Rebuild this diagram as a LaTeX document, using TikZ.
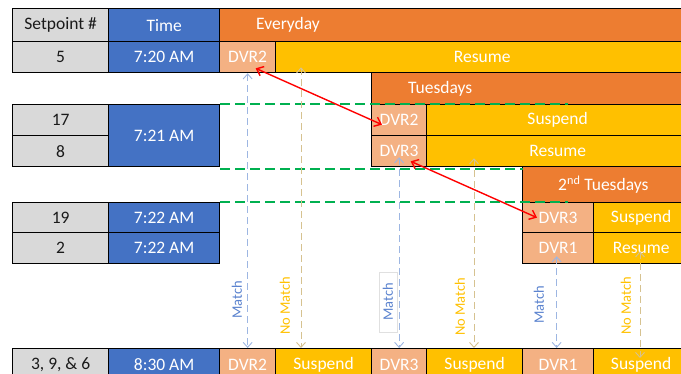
\documentclass[tikz,border=0pt]{standalone}
\usepackage{fontspec}
\setmainfont{Carlito}
\usetikzlibrary{arrows.meta,positioning}
\definecolor{cellgray}{HTML}{D9D9D9}
\definecolor{cellink}{HTML}{1A1A1A}
\definecolor{timeblue}{HTML}{4472C4}
\definecolor{dayorange}{HTML}{ED7D31}
\definecolor{dvrpeach}{HTML}{F4B183}
\definecolor{actgold}{HTML}{FFC000}
\definecolor{windowgreen}{HTML}{00B050}
\definecolor{matchline}{HTML}{9DB6E2}
\definecolor{matchink}{HTML}{5A82CE}
\definecolor{missline}{HTML}{D6C290}

\begin{document}
\begin{tikzpicture}[
  x=1pt,
  y=-1pt,
  every node/.style={font=\fontsize{17.5}{20}\selectfont, inner sep=0pt},
  cell/.style={draw=black, line width=1.3pt, anchor=north west, text=white},
  spcell/.style={cell, fill=cellgray, text=cellink, minimum width=96pt},
  tmcell/.style={cell, fill=timeblue, minimum width=111pt},
  dvrcell/.style={cell, fill=dvrpeach},
  actcell/.style={cell, fill=actgold},
  daybar/.style={cell, fill=dayorange},
  daytext/.style={text=white},
  window/.style={windowgreen, line width=1.6pt, dash pattern=on 10pt off 5pt},
  matcharrow/.style={matchline, line width=0.9pt, dash pattern=on 7pt off 4pt, {Straight Barb[length=5pt, width=9pt]}-{Straight Barb[length=5pt, width=9pt]}},
  missarrow/.style={missline, line width=0.9pt, dash pattern=on 7pt off 4pt, {Straight Barb[length=5pt, width=9pt]}-{Straight Barb[length=5pt, width=9pt]}},
  swaparrow/.style={red, line width=1.4pt, {Straight Barb[length=6pt, width=10pt]}-{Straight Barb[length=6pt, width=10pt]}},
  matchlbl/.style={text=matchink, font=\fontsize{14.5}{16}\selectfont, rotate=90},
  misslbl/.style={text=actgold, font=\fontsize{14.5}{16}\selectfont, rotate=90}
]
  \useasboundingbox (0,0) rectangle (681,374);
  \clip (0,0) rectangle (681,374);

  %% ---- header and 7:20 -------------------------------------------------
  \node[spcell, minimum height=33pt] (sphead) at (12,8) {Setpoint \#};
  \node[tmcell, minimum height=33pt] (tmhead) at (108,8) {Time};
  \node[daybar, minimum width=469pt, minimum height=33pt] (everyday) at (219,8) {};
  \node[daytext, right=37pt of everyday.west] {Everyday};

  \node[spcell, minimum height=31pt] (sp5) at (12,41) {5};
  \node[tmcell, minimum height=31pt] (tm5) at (108,41) {7:20 AM};
  \node[dvrcell, minimum width=56pt, minimum height=31pt] (dvrA) at (219,41) {DVR2};
  \node[actcell, minimum width=413pt, minimum height=31pt] (res5) at (275,41) {Resume};

  %% ---- 7:21 --------------------------------------------------------------
  \node[daybar, minimum width=317pt, minimum height=32pt] (tuesdays) at (371,72) {};
  \node[daytext, right=37pt of tuesdays.west] {Tuesdays};

  \node[spcell, minimum height=31pt] (sp17) at (12,104) {17};
  \node[spcell, minimum height=31pt] (sp8) at (12,135) {8};
  \node[tmcell, minimum height=62pt] (tm21) at (108,104) {7:21 AM};
  \node[dvrcell, minimum width=55pt, minimum height=31pt] (dvrB) at (371,104) {DVR2};
  \node[actcell, minimum width=262pt, minimum height=31pt] (sus17) at (426,104) {Suspend};
  \node[dvrcell, minimum width=55pt, minimum height=31pt] (dvrC) at (371,135) {DVR3};
  \node[actcell, minimum width=262pt, minimum height=31pt] (res8) at (426,135) {Resume};

  %% ---- 7:22 --------------------------------------------------------------
  \node[daybar, minimum width=166pt, minimum height=36pt] (secondtue) at (522,166) {};
  \node[daytext, right=36pt of secondtue.west] {2\textsuperscript{nd} Tuesdays};

  \node[spcell, minimum height=30pt] (sp19) at (12,202) {19};
  \node[tmcell, minimum height=30pt] (tm19) at (108,202) {7:22 AM};
  \node[dvrcell, minimum width=71pt, minimum height=30pt] (dvrD) at (522,202) {DVR3};
  \node[actcell, minimum width=95pt, minimum height=30pt] (sus19) at (593,202) {Suspend};

  \node[spcell, minimum height=31pt] (sp2) at (12,232) {2};
  \node[tmcell, minimum height=31pt] (tm2) at (108,232) {7:22 AM};
  \node[dvrcell, minimum width=71pt, minimum height=31pt] (dvrE) at (522,232) {DVR1};
  \node[actcell, minimum width=95pt, minimum height=31pt] (res2) at (593,232) {Resume};

  %% ---- 8:30 --------------------------------------------------------------
  \node[spcell, minimum height=32pt] (spB) at (12,348) {3, 9, \& 6};
  \node[tmcell, minimum height=32pt] (tmB) at (108,348) {8:30 AM};
  \foreach \x/\w/\n/\t in {219/56/bdvrA/DVR2, 371/55/bdvrB/DVR3, 522/71/bdvrC/DVR1}
    \node[dvrcell, minimum width=\w pt, minimum height=32pt] (\n) at (\x,348) {\t};
  \foreach \x/\w/\n in {275/96/bsusA, 426/96/bsusB, 593/95/bsusC}
    \node[actcell, minimum width=\w pt, minimum height=32pt] (\n) at (\x,348) {Suspend};

  %% ---- windows -----------------------------------------------------------
  \draw[window] (tm21.north east) -- ++(348,0);
  \draw[window] ([yshift=-2pt]tm21.south east) -- ++(303,0);
  \draw[window] (tm19.north east) -- ++(348,0);

  %% ---- match / no match --------------------------------------------------
  \node[matchlbl] (m1) at (237,300) {Match};
  \node[misslbl] (n1) at (285,306) {No Match};
  \node[matchlbl, draw=black!12, line width=0.5pt, inner xsep=11pt, inner ysep=4pt] (m2) at (388,302) {Match};
  \node[misslbl] (n2) at (460,307) {No Match};
  \node[matchlbl] (m3) at (539,305) {Match};
  \node[misslbl] (n3) at (626,306) {No Match};

  \draw[matcharrow] (dvrA.south) -- (bdvrA.north);
  \draw[matcharrow] ([yshift=10pt]dvrC.south) -- (bdvrB.north);
  \draw[matcharrow] ([xshift=-1.5pt,yshift=8pt]dvrE.south) -- ([xshift=-1.5pt]bdvrC.north);
  \draw[missarrow] ([xshift=26pt,yshift=6pt]res5.south west) -- ([xshift=26pt]bsusA.north west);
  \draw[missarrow] ([xshift=48pt,yshift=9pt]res8.south west) -- ([xshift=48pt]bsusB.north west);
  \draw[missarrow] ([xshift=47pt,yshift=13pt]res2.south west) -- ([xshift=47pt,yshift=-10pt]bsusC.north west);

  %% ---- swaps -------------------------------------------------------------
  \draw[swaparrow] ([xshift=8pt,yshift=5pt]dvrA.south) -- ([xshift=11pt,yshift=-4.5pt]dvrB.west);
  \draw[swaparrow] ([xshift=11.5pt,yshift=6pt]dvrC.south) -- ([xshift=15pt]dvrD.west);

\end{tikzpicture}
\end{document}
